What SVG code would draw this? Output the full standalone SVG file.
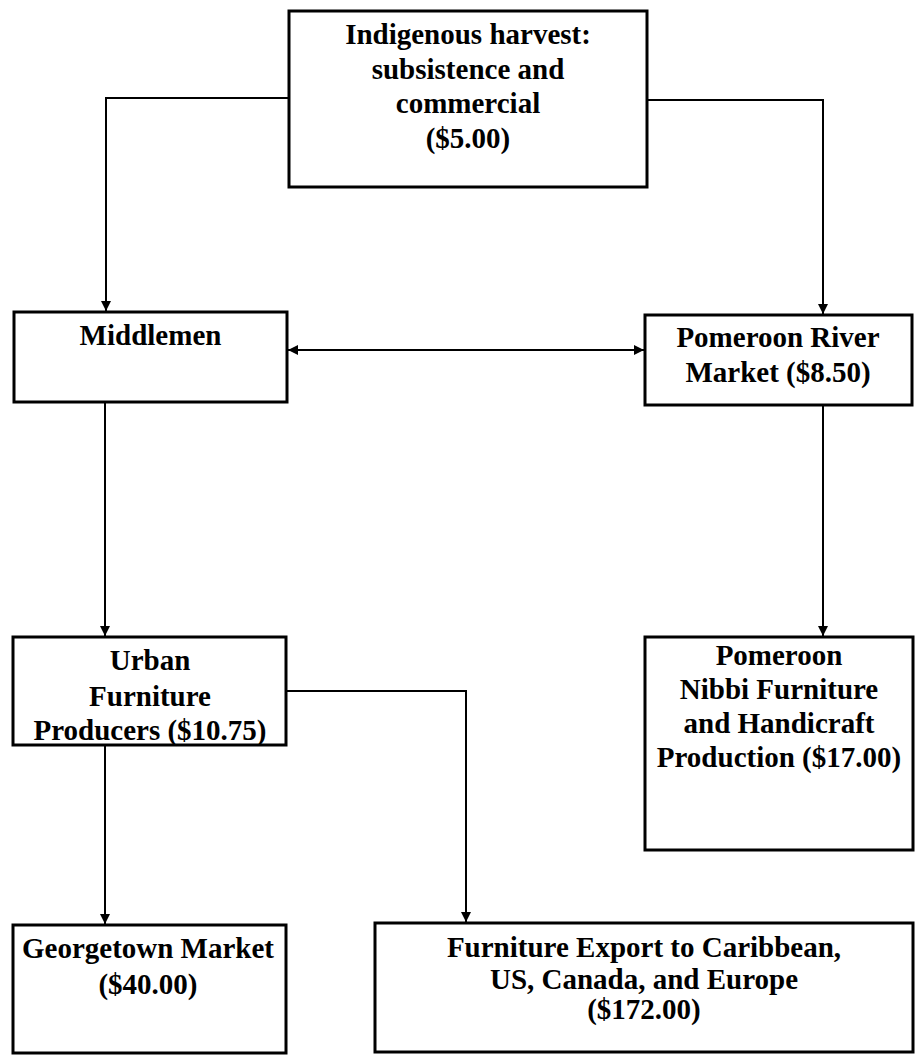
<svg xmlns="http://www.w3.org/2000/svg" width="917" height="1056" viewBox="0 0 917 1056">
<style>
.box{fill:#fff;stroke:#000;stroke-width:3}
.lbl{font-family:"Liberation Serif","Times New Roman",serif;font-weight:bold;font-size:29px;fill:#000;text-anchor:middle}
.con{fill:none;stroke:#000;stroke-width:2}
</style>
<defs>
<marker id="ah" viewBox="0 0 10 10" refX="10" refY="5" markerWidth="10" markerHeight="10" markerUnits="userSpaceOnUse" orient="auto-start-reverse">
<path d="M0,0 L10,5 L0,10 z" fill="#000"/>
</marker>
</defs>
<rect width="917" height="1056" fill="#fff"/>
<g id="connectors">
<path class="con" d="M288,98 H106 V311" marker-end="url(#ah)"/>
<path class="con" d="M647,100 H823 V314" marker-end="url(#ah)"/>
<path class="con" d="M288,350 H644" marker-start="url(#ah)" marker-end="url(#ah)"/>
<path class="con" d="M105,402 V636" marker-end="url(#ah)"/>
<path class="con" d="M823,405 V636" marker-end="url(#ah)"/>
<path class="con" d="M105,745 V924" marker-end="url(#ah)"/>
<path class="con" d="M286,691 H466 V922" marker-end="url(#ah)"/>
</g>
<g id="n-harvest">
<rect class="box" x="289" y="11" width="358" height="176"/>
<text class="lbl" x="468" y="44">Indigenous harvest:</text>
<text class="lbl" x="468" y="78.5">subsistence and</text>
<text class="lbl" x="468" y="113">commercial</text>
<text class="lbl" x="468" y="147.5">($5.00)</text>
</g>
<g id="n-middlemen">
<rect class="box" x="14" y="312" width="273" height="90"/>
<text class="lbl" x="150.5" y="345">Middlemen</text>
</g>
<g id="n-pomeroon-market">
<rect class="box" x="645" y="315" width="267" height="90"/>
<text class="lbl" x="778" y="347">Pomeroon River</text>
<text class="lbl" x="778" y="382">Market ($8.50)</text>
</g>
<g id="n-urban">
<rect class="box" x="13" y="637" width="273" height="108"/>
<text class="lbl" x="150" y="670">Urban</text>
<text class="lbl" x="150" y="706">Furniture</text>
<text class="lbl" x="150" y="740">Producers ($10.75)</text>
</g>
<g id="n-nibbi">
<rect class="box" x="645" y="637" width="268" height="213"/>
<text class="lbl" x="779" y="665">Pomeroon</text>
<text class="lbl" x="779" y="699">Nibbi Furniture</text>
<text class="lbl" x="779" y="733">and Handicraft</text>
<text class="lbl" x="779" y="767">Production ($17.00)</text>
</g>
<g id="n-georgetown">
<rect class="box" x="13" y="925" width="273" height="128"/>
<text class="lbl" x="148" y="958">Georgetown Market</text>
<text class="lbl" x="148" y="994">($40.00)</text>
</g>
<g id="n-export">
<rect class="box" x="375" y="923" width="538" height="129"/>
<text class="lbl" x="644" y="957">Furniture Export to Caribbean,</text>
<text class="lbl" x="644" y="989">US, Canada, and Europe</text>
<text class="lbl" x="644" y="1019">($172.00)</text>
</g>
</svg>
